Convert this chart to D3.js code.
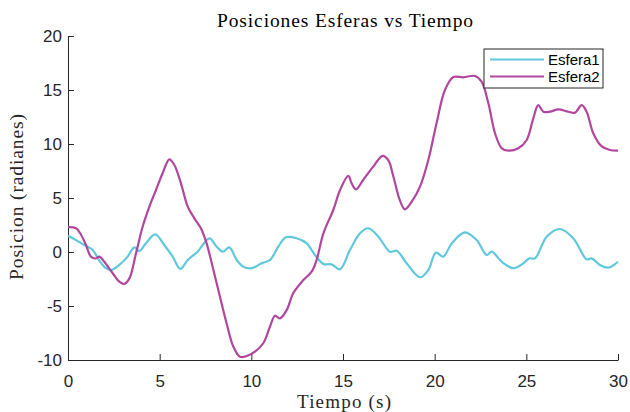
<!DOCTYPE html>
<html lang="es">
<head>
<meta charset="UTF-8">
<title>Posiciones Esferas vs Tiempo</title>
<script src="https://cdn.jsdelivr.net/npm/d3@7/dist/d3.min.js"></script>
<style>
  body { margin: 0; background: #fff; }
  svg { display: block; }
</style>
</head>
<body>
<div id="chart"></div>
<script>
// time (s) and position (rad)
const t1 = [0, 0.44, 0.98, 1.35, 1.71, 2.07, 2.35, 2.8, 3.25, 3.62, 3.89, 4.25, 4.76, 5.25, 5.71, 6.13, 6.53, 7.07, 7.71, 8.11, 8.44, 8.8, 9.2, 9.56, 10.02, 10.56, 11.02, 11.47, 11.89, 12.47, 13.02, 13.47, 13.93, 14.38, 14.84, 15.38, 15.93, 16.38, 16.93, 17.56, 17.93, 18.47, 19.2, 19.65, 20.07, 20.47, 20.93, 21.65, 22.29, 22.84, 23.11, 23.66, 24.29, 24.84, 25.16, 25.47, 26.11, 26.84, 27.56, 28.29, 28.56, 29.02, 29.47, 30];
const esfera1 = [1.5, 1.1, 0.55, 0.19, -0.8, -1.5, -1.67, -1.2, -0.43, 0.43, 0.09, 0.8, 1.64, 0.65, -0.43, -1.57, -0.74, 0.03, 1.27, 0.49, 0.03, 0.43, -0.74, -1.36, -1.5, -1.05, -0.74, 0.49, 1.36, 1.27, 0.8, -0.28, -1.1, -1.15, -1.6, 0.19, 1.73, 2.2, 1.42, 0.03, 0.12, -1.05, -2.34, -1.67, -0.06, -0.43, 0.8, 1.82, 1.11, -0.28, 0.03, -0.9, -1.5, -1.05, -0.59, -0.59, 1.42, 2.13, 1.27, -0.68, -0.59, -1.2, -1.45, -0.9];

const t2 = [0, 0.44, 0.71, 0.98, 1.25, 1.49, 1.71, 1.98, 2.44, 2.8, 3.07, 3.35, 3.71, 4.07, 4.44, 4.8, 5.16, 5.53, 5.8, 6.16, 6.53, 6.89, 7.25, 7.56, 7.93, 8.29, 8.65, 9.02, 9.38, 9.75, 10.2, 10.65, 11.02, 11.29, 11.56, 11.93, 12.29, 12.84, 13.29, 13.56, 13.93, 14.47, 14.84, 15.29, 15.47, 15.71, 16.1, 16.65, 17.16, 17.47, 17.75, 18.1, 18.38, 18.75, 19.2, 19.65, 20.1, 20.56, 21.02, 21.56, 22.2, 22.56, 22.93, 23.29, 23.66, 24.02, 24.56, 25.02, 25.38, 25.65, 25.93, 26.29, 26.74, 27.29, 27.65, 28.02, 28.29, 28.65, 29.1, 29.56, 30];
const esfera2 = [2.3, 2.2, 1.6, 0.65, -0.43, -0.6, -0.43, -0.9, -1.97, -2.75, -2.96, -2.44, -0.12, 2.34, 4.2, 5.74, 7.29, 8.58, 8.06, 6.36, 4.2, 3.12, 2.2, 0.8, -1.67, -4.14, -6.6, -8.77, -9.7, -9.63, -9.23, -8.45, -6.9, -5.9, -6.14, -5.37, -3.8, -2.6, -1.82, -0.74, 1.73, 3.89, 5.74, 7.04, 6.36, 5.8, 6.67, 7.9, 8.9, 8.5, 6.97, 4.8, 3.95, 4.66, 6.05, 8.5, 11.9, 15.0, 16.2, 16.17, 16.3, 15.77, 13.77, 11.0, 9.6, 9.38, 9.6, 10.37, 12.38, 13.6, 12.99, 12.99, 13.2, 12.99, 12.9, 13.6, 12.99, 11.0, 9.8, 9.44, 9.38];

const seriesNames = ["Esfera1", "Esfera2"];
const seriesColors = ["#5fc8dc", "#b0469e"];
const xTicks = [0, 5, 10, 15, 20, 25, 30];
const yTicks = [-10, -5, 0, 5, 10, 15, 20];

const width = 630, height = 412;
const margin = { top: 36, right: 12, bottom: 52, left: 68 };

const svg = d3.select("#chart").append("svg")
  .attr("width", width)
  .attr("height", height);

const x = d3.scaleLinear().domain([0, 30]).range([margin.left, width - margin.right]);
const y = d3.scaleLinear().domain([-10, 20]).range([height - margin.bottom, margin.top]);

const axisColor = "#262626";
const serif = "Liberation Serif, DejaVu Serif, serif";

// axes, ticks pointing inward, plain hyphen for negatives
const xAxis = svg.append("g")
  .attr("transform", `translate(0,${y(-10)})`)
  .call(d3.axisBottom(x).tickValues(xTicks).tickFormat(d => String(d))
    .tickSizeInner(-6).tickSizeOuter(0).tickPadding(15));
const yAxis = svg.append("g")
  .attr("transform", `translate(${x(0)},0)`)
  .call(d3.axisLeft(y).tickValues(yTicks).tickFormat(d => String(d))
    .tickSizeInner(-6).tickSizeOuter(0).tickPadding(6));

[xAxis, yAxis].forEach(g => {
  g.select(".domain").attr("stroke", axisColor).attr("stroke-width", 1);
  g.selectAll(".tick line").attr("stroke", axisColor);
  g.selectAll(".tick text")
    .attr("fill", axisColor)
    .attr("font-family", "Liberation Sans, Arial, sans-serif")
    .attr("font-size", 17);
});

const line = d3.line()
  .x(d => x(d[0]))
  .y(d => y(d[1]))
  .curve(d3.curveCatmullRom.alpha(0.5));

const series = [
  d3.zip(t1, esfera1),
  d3.zip(t2, esfera2)
];

svg.selectAll("path.serie")
  .data(series)
  .join("path")
  .attr("class", "serie")
  .attr("fill", "none")
  .attr("stroke", (d, i) => seriesColors[i])
  .attr("stroke-width", 2.2)
  .attr("stroke-linejoin", "round")
  .attr("d", line);

// title and labels
svg.append("text")
  .attr("x", 345).attr("y", 27)
  .attr("text-anchor", "middle")
  .attr("font-family", serif)
  .attr("font-size", 19.5)
  .attr("textLength", 256)
  .attr("lengthAdjust", "spacing")
  .attr("fill", "#000")
  .text("Posiciones Esferas vs Tiempo");

svg.append("text")
  .attr("x", 344).attr("y", 408)
  .attr("text-anchor", "middle")
  .attr("font-family", serif)
  .attr("font-size", 19)
  .attr("textLength", 94)
  .attr("lengthAdjust", "spacing")
  .attr("fill", axisColor)
  .text("Tiempo (s)");

svg.append("text")
  .attr("transform", `translate(23,${(y(20) + y(-10)) / 2 - 1}) rotate(-90)`)
  .attr("text-anchor", "middle")
  .attr("font-family", serif)
  .attr("font-size", 19.5)
  .attr("textLength", 166)
  .attr("lengthAdjust", "spacing")
  .attr("fill", axisColor)
  .text("Posicion (radianes)");

// legend
const legend = svg.append("g").attr("transform", "translate(484,49)");
legend.append("rect")
  .attr("width", 119).attr("height", 39)
  .attr("fill", "#fff")
  .attr("stroke", axisColor)
  .attr("stroke-width", 1);

const items = legend.selectAll("g.item")
  .data(seriesNames)
  .join("g")
  .attr("class", "item")
  .attr("transform", (d, i) => `translate(0,${10.5 + i * 17})`);
items.append("line")
  .attr("x1", 6).attr("x2", 60)
  .attr("stroke", (d, i) => seriesColors[i])
  .attr("stroke-width", 2.2);
items.append("text")
  .attr("x", 64).attr("dy", "0.35em")
  .attr("font-family", "Liberation Sans, Arial, sans-serif")
  .attr("font-size", 15)
  .attr("fill", "#000")
  .text(d => d);
</script>
</body>
</html>
